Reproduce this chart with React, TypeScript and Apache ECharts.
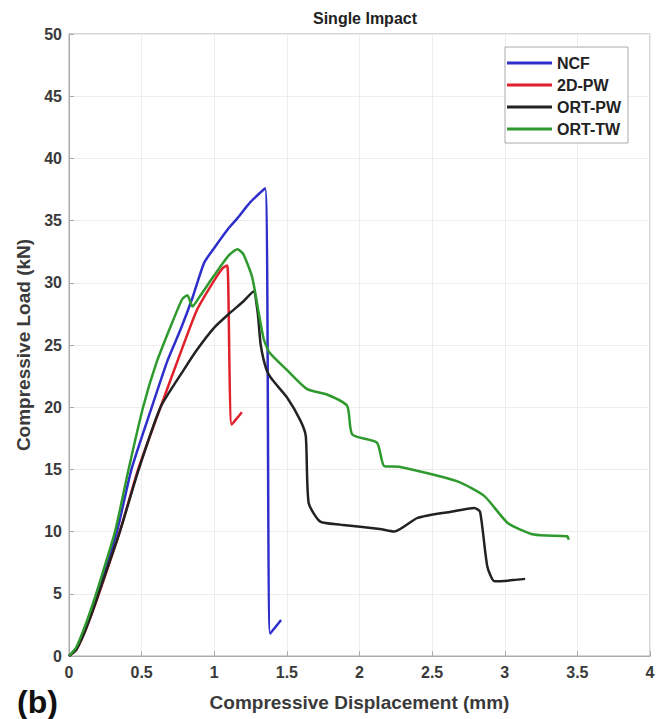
import React, { useEffect, useRef } from "react";
import * as echarts from "echarts";

const seriesNames = ["NCF", "2D-PW", "ORT-PW", "ORT-TW"];

const ncf: number[][] = [
  [0, 0], [0.05, 0.6], [0.1, 1.9], [0.15, 3.4], [0.2, 5.1], [0.33, 10], [0.43, 15],
  [0.57, 20], [0.68, 23.8], [0.77, 26.3], [0.85, 28.8], [0.93, 31.6], [1.0, 32.8],
  [1.1, 34.4], [1.16, 35.2], [1.25, 36.5], [1.35, 37.6], [1.385, 1.8], [1.46, 2.9],
];

const pw2d: number[][] = [
  [0, 0], [0.05, 0.5], [0.1, 1.7], [0.15, 3.2], [0.2, 4.8], [0.35, 10], [0.476, 15],
  [0.63, 20], [0.75, 23.8], [0.88, 27.8], [1.0, 30.2], [1.06, 31.2], [1.09, 31.4],
  [1.12, 18.6], [1.19, 19.6],
];

const ortPw: number[][] = [
  [0, 0], [0.05, 0.5], [0.1, 1.7], [0.15, 3.2], [0.2, 4.9], [0.35, 10], [0.48, 15],
  [0.63, 20], [0.79, 23], [0.88, 24.6], [1.0, 26.4], [1.11, 27.6], [1.2, 28.5],
  [1.27, 29.3], [1.3, 27.5], [1.32, 25], [1.36, 23], [1.4, 22.2], [1.5, 20.8],
  [1.59, 19.0], [1.63, 17.7], [1.65, 12.3], [1.73, 10.8], [1.87, 10.56], [2.14, 10.2],
  [2.24, 10.0], [2.4, 11.1], [2.63, 11.6], [2.79, 11.9], [2.83, 11.6], [2.88, 7.2],
  [2.93, 6.0], [3.06, 6.1], [3.14, 6.2],
];

const ortTw: number[][] = [
  [0, 0], [0.05, 0.7], [0.1, 2.1], [0.15, 3.7], [0.2, 5.5], [0.317, 10], [0.41, 15],
  [0.51, 20], [0.6, 23.5], [0.7, 26.5], [0.78, 28.7], [0.815, 29], [0.85, 28.1],
  [0.9, 28.9], [1.0, 30.6], [1.1, 32.2], [1.16, 32.7], [1.2, 32.3], [1.26, 30.5],
  [1.3, 28], [1.34, 25.5], [1.38, 24.4], [1.5, 23], [1.64, 21.45], [1.78, 21],
  [1.915, 20.1], [1.95, 17.8], [2.12, 17.15], [2.17, 15.27], [2.28, 15.2],
  [2.67, 14.06], [2.86, 12.85], [3.02, 10.7], [3.2, 9.76], [3.43, 9.62], [3.44, 9.35],
];

const seriesData = [ncf, pw2d, ortPw, ortTw];
const colors = ["#2e2ecc", "#e0202a", "#222222", "#2e9a2e"];

export default function App() {
  const ref = useRef<HTMLDivElement>(null);
  useEffect(() => {
    if (!ref.current) return;
    const chart = echarts.init(ref.current, undefined, { renderer: "svg" });
    const font = "Liberation Sans, Arial, sans-serif";
    chart.setOption({
      animation: false,
      backgroundColor: "#ffffff",
      title: {
        text: "Single Impact",
        left: 360,
        textAlign: "center",
        top: 5,
        textStyle: { fontFamily: font, fontSize: 16, fontWeight: "bold", color: "#222" },
      },
      grid: {
        left: 69,
        right: 14,
        top: 34,
        bottom: 63,
        show: true,
        borderColor: "#aaa",
        borderWidth: 1,
      },
      legend: {
        data: seriesNames,
        orient: "vertical",
        left: 505,
        top: 47,
        padding: [8, 7, 6, 2],
        itemGap: 6,
        itemWidth: 45,
        itemHeight: 3,
        icon: "rect",
        borderColor: "#aaa",
        borderWidth: 1,
        backgroundColor: "#fff",
        textStyle: { fontFamily: font, fontSize: 16, lineHeight: 16, fontWeight: "bold", color: "#222" },
      },
      xAxis: {
        type: "value",
        min: 0,
        max: 4,
        interval: 0.5,
        name: "Compressive Displacement (mm)",
        nameLocation: "middle",
        nameGap: 37,
        nameTextStyle: { fontFamily: font, fontSize: 19, fontWeight: "bold", color: "#3a3a3a" },
        axisLine: { show: true, lineStyle: { color: "#aaa" } },
        axisTick: { show: true, inside: true, length: 5, lineStyle: { color: "#aaa" } },
        axisLabel: { fontFamily: font, fontSize: 16, fontWeight: "bold", color: "#3a3a3a", margin: 8 },
        splitLine: { show: true, lineStyle: { color: "#ededed" } },
      },
      yAxis: {
        type: "value",
        min: 0,
        max: 50,
        interval: 5,
        name: "Compressive Load (kN)",
        nameLocation: "middle",
        nameGap: 32,
        nameTextStyle: { fontFamily: font, fontSize: 19, fontWeight: "bold", color: "#3a3a3a" },
        axisLine: { show: true, lineStyle: { color: "#aaa" } },
        axisTick: { show: true, inside: true, length: 5, lineStyle: { color: "#aaa" } },
        axisLabel: { fontFamily: font, fontSize: 16, fontWeight: "bold", color: "#3a3a3a", margin: 7 },
        splitLine: { show: true, lineStyle: { color: "#ededed" } },
      },
      graphic: [
        {
          type: "text",
          left: 17,
          top: 686,
          style: { text: "(b)", fontFamily: font, fontSize: 32, fontWeight: "bold", fill: "#111" },
        },
      ],
      series: seriesNames.map((name, i) => ({
        name,
        type: "line",
        data: seriesData[i],
        symbol: "none",
        showSymbol: false,
        smooth: 0.2,
        color: colors[i],
        lineStyle: { width: 2.5, color: colors[i] },
      })),
    });
    return () => chart.dispose();
  }, []);
  return <div ref={ref} style={{ width: 664, height: 719, position: "absolute", left: 0, top: 0 }} />;
}
